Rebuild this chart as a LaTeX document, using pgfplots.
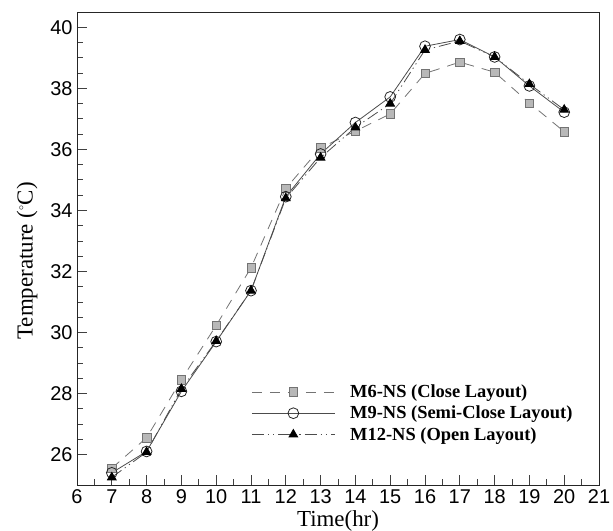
\documentclass[border=0pt]{standalone}
\usepackage{fontspec}
\setmainfont{Liberation Serif}
\setsansfont{Liberation Sans}
\usepackage{pgfplots}
\pgfplotsset{compat=1.18}

% Temperature histories of the three layouts
\pgfplotstableread{
t   T
7   25.55
8   26.55
9   28.45
10  30.23
11  32.12
12  34.72
13  36.05
14  36.60
15  37.16
16  38.49
17  38.86
18  38.53
19  37.52
20  36.58
}\closeLayout
\pgfplotstableread{
t   T
7   25.40
8   26.10
9   28.07
10  29.70
11  31.37
12  34.45
13  35.85
14  36.88
15  37.72
16  39.38
17  39.60
18  39.03
19  38.08
20  37.22
}\semiLayout
\pgfplotstableread{
t   T
7   25.25
8   26.08
9   28.15
10  29.72
11  31.37
12  34.40
13  35.73
14  36.72
15  37.50
16  39.26
17  39.55
18  39.03
19  38.14
20  37.30
}\openLayout

\begin{document}
\begin{tikzpicture}
\begin{axis}[
  scale only axis,
  width=522bp, height=472.3bp,
  xmin=6, xmax=21, ymin=25, ymax=40.48,
  xtick={6,...,21}, minor x tick num=1,
  ytick={26,28,...,40}, minor y tick num=3,
  xtick pos=lower, ytick pos=left,
  tick align=inside,
  major tick length=10bp, minor tick length=6bp,
  axis line style={line width=1bp, black!85},
  tick style={line width=0.8bp, black!75},
  /pgf/number format/assume math mode=true,
  ticklabel style={font=\fontsize{20}{20}\selectfont\sffamily},
  xticklabel style={yshift=-1bp},
  yticklabel style={xshift=-1bp},
  xlabel={Time(hr)},
  ylabel={Temperature (\raisebox{0.15em}{\fontsize{14}{14}\selectfont$^\circ$}C)},
  label style={font=\fontsize{23}{23}\selectfont\rmfamily},
  xlabel shift=0bp,
  ylabel shift=6bp,
  ylabel style={xshift=-12bp},
  legend style={at={(rel axis cs:0.33,0.221)}, anchor=north west,
    draw=none, fill=none, font=\fontsize{18.5}{18.5}\selectfont\bfseries,
    row sep=3bp, column sep=13bp, inner sep=2pt},
  legend cell align=left,
  legend image code/.code={
    \draw[mark repeat=2,mark phase=2] plot coordinates {(0bp,0bp)(41.5bp,0bp)(83bp,0bp)};
  },
]
\addplot[black!55, line width=0.8bp, dash pattern=on 10bp off 8bp,
  mark=square*, mark size=4.2bp,
  mark options={solid, fill=black!28, draw=black!55, line width=0.6bp}]
  table[x=t,y=T] {\closeLayout};
\addlegendentry{M6-NS (Close Layout)}

\addplot[black!70, line width=0.8bp,
  mark=o, mark size=5.4bp,
  mark options={solid, fill=white, draw=black!85, line width=0.8bp}]
  table[x=t,y=T] {\semiLayout};
\addlegendentry{M9-NS (Semi-Close Layout)}

\addplot[black!70, line width=0.8bp,
  dash pattern=on 12bp off 4bp on 1.2bp off 4bp on 1.2bp off 4bp,
  mark=triangle*, mark size=5bp,
  mark options={solid, fill=black, draw=black}]
  table[x=t,y=T] {\openLayout};
\addlegendentry{M12-NS (Open Layout)}

\coordinate (ll) at (rel axis cs:0,0);
\coordinate (ur) at (rel axis cs:1,1);
\end{axis}
\pgfresetboundingbox
\path ([xshift=-77bp,yshift=-46bp]ll) rectangle ([xshift=14bp,yshift=12.7bp]ur);
\end{tikzpicture}
\end{document}
